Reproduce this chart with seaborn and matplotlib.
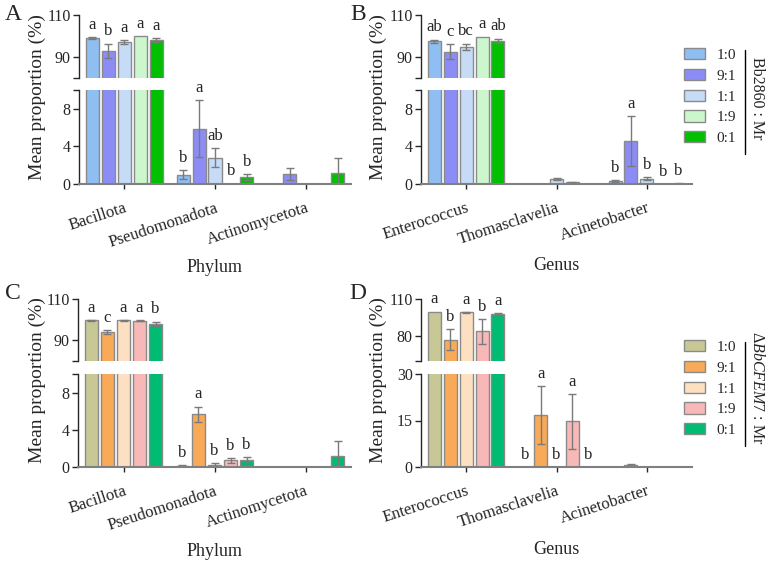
import matplotlib
matplotlib.use("Agg")
import matplotlib.pyplot as plt
import pandas as pd
import seaborn as sns
from matplotlib.patches import Patch
from matplotlib.lines import Line2D

sns.set_style("ticks")
plt.rcParams["font.family"] = ["Liberation Serif", "DejaVu Serif"]
plt.rcParams["mathtext.fontset"] = "custom"
plt.rcParams["mathtext.rm"] = "Liberation Serif"
plt.rcParams["mathtext.it"] = "Liberation Serif:italic"

ratios = ["1:0", "9:1", "1:1", "1:9", "0:1"]
phyla = ["Bacillota", "Pseudomonadota", "Actinomycetota"]
genera = ["Enterococcus", "Thomasclavelia", "Acinetobacter"]

# one list per ratio, values in taxon order
# A: Bb2860 : Mr, phylum
a_mean = [[99.0, 1.0, 0.02], [92.9, 5.9, 1.1], [97.1, 2.8, 0.03], [100.0, 0.05, 0.0], [98.1, 0.75, 1.15]]
a_sd = [[0.5, 0.45, 0.0], [3.5, 3.0, 0.65], [1.0, 1.0, 0.0], [0.0, 0.0, 0.0], [1.0, 0.3, 1.65]]
a_letters = [["a", "b", ""], ["b", "a", ""], ["a", "ab", ""], ["a", "b", ""], ["a", "b", ""]]

# B: Bb2860 : Mr, genus
b_mean = [[97.6, 0.03, 0.3], [92.5, 0.03, 4.6], [94.9, 0.5, 0.55], [99.7, 0.2, 0.0], [97.8, 0.02, 0.05]]
b_sd = [[0.7, 0.0, 0.1], [3.5, 0.0, 2.65], [1.5, 0.1, 0.15], [0.0, 0.05, 0.0], [1.0, 0.0, 0.02]]
b_letters = [["ab", "", "b"], ["c", "", "a"], ["bc", "", "b"], ["a", "", "b"], ["ab", "", "b"]]

# C: dBbCFEM7 : Mr, phylum
c_mean = [[99.7, 0.15, 0.02], [94.1, 5.65, 0.02], [99.7, 0.2, 0.0], [99.4, 0.7, 0.0], [98.1, 0.75, 1.15]]
c_sd = [[0.2, 0.05, 0.0], [0.8, 0.85, 0.0], [0.2, 0.2, 0.0], [0.2, 0.25, 0.0], [1.0, 0.3, 1.6]]
c_letters = [["a", "b", ""], ["c", "a", ""], ["a", "b", ""], ["a", "b", ""], ["b", "b", ""]]

# D: dBbCFEM7 : Mr, genus
d_mean = [[99.9, 0.0, 0.05], [77.3, 16.7, 0.7], [99.2, 0.0, 0.05], [83.8, 14.7, 0.05], [98.1, 0.0, 0.05]]
d_sd = [[0.0, 0.0, 0.0], [8.5, 9.3, 0.3], [0.5, 0.0, 0.0], [9.7, 8.8, 0.0], [0.7, 0.0, 0.0]]
d_letters = [["a", "b", ""], ["b", "a", ""], ["a", "b", ""], ["b", "a", ""], ["a", "b", ""]]

blue_pal = ["#8fbff2", "#8c8cf7", "#c6dbf5", "#ccf7cc", "#00c000"]
orange_pal = ["#c8c896", "#f8aa58", "#fde0c2", "#f8b8b8", "#00bb72"]

EDGE = "#8a8a8a"
ERR = "#7a7a7a"
W, H = 766, 561

fig = plt.figure(figsize=(W / 100, H / 100), dpi=100)


def box(l, r, t, b):
    return [l / W, 1 - b / H, (r - l) / W, (b - t) / H]


def draw_panel(left, right, top, mid1, mid2, bottom, cats, mean, sd, letters, palette,
               top_lim, top_ticks, bot_lim, bot_ticks):
    rows = []
    for i, r in enumerate(ratios):
        for j, c in enumerate(cats):
            rows.append({"taxon": c, "ratio": r, "mean": mean[i][j],
                         "sd": sd[i][j], "letter": letters[i][j]})
    df = pd.DataFrame(rows)

    ax_t = fig.add_axes(box(left, right, top, mid1))
    ax_b = fig.add_axes(box(left, right, mid2, bottom))
    centers = []
    for ax in (ax_t, ax_b):
        sns.barplot(data=df, x="taxon", y="mean", hue="ratio", order=cats, hue_order=ratios,
                    palette=palette, saturation=1, width=0.88, gap=0.18, errorbar=None,
                    edgecolor=EDGE, linewidth=1, legend=False, ax=ax)
        centers = [p.get_x() + p.get_width() / 2 for p in ax.patches]
        for x, (_, row) in zip(centers, df.iterrows()):
            if row["sd"] > 0:
                ax.errorbar(x, row["mean"], yerr=row["sd"], fmt="none", ecolor=ERR,
                            elinewidth=1, capsize=3, capthick=1)
        ax.set_xlim(-0.5, 2.5)
        ax.set_xlabel("")
        ax.set_ylabel("")
        ax.spines["top"].set_visible(False)
        ax.spines["right"].set_visible(False)
        ax.spines["left"].set_linewidth(1)
        ax.tick_params(axis="y", direction="out", length=4, width=1, labelsize=11.5, pad=2)

    for x, (_, row) in zip(centers, df.iterrows()):
        if row["letter"]:
            target = ax_t if row["mean"] > bot_lim[1] else ax_b
            target.annotate(row["letter"], (x, row["mean"] + row["sd"]), xytext=(0, 3),
                            textcoords="offset points", ha="center", va="bottom", fontsize=12)

    ax_t.set_ylim(*top_lim)
    ax_t.set_yticks([top_lim[0]] + top_ticks)
    ax_t.set_yticklabels([""] + [str(t) for t in top_ticks])
    ax_t.spines["bottom"].set_visible(False)
    ax_t.set_xticks([])

    ax_b.set_ylim(*bot_lim)
    ticks = list(bot_ticks)
    labels = [str(t) for t in bot_ticks]
    if bot_lim[1] not in ticks:
        ticks.append(bot_lim[1])
        labels.append("")
    ax_b.set_yticks(ticks)
    ax_b.set_yticklabels(labels)
    ax_b.spines["bottom"].set_color("#808080")
    ax_b.spines["bottom"].set_linewidth(1.5)
    ax_b.set_xticks(range(len(cats)))
    ax_b.set_xticklabels(cats, rotation=18, ha="right", va="top", rotation_mode="anchor",
                         fontsize=12)
    ax_b.tick_params(axis="x", direction="out", length=3.5, width=1, pad=8)
    return ax_t, ax_b


draw_panel(79, 351, 15, 78, 90, 184, phyla, a_mean, a_sd, a_letters, blue_pal,
           (80, 110), [90, 110], (0, 10), [0, 4, 8])
draw_panel(421, 692, 15, 78, 90, 184, genera, b_mean, b_sd, b_letters, blue_pal,
           (80, 110), [90, 110], (0, 10), [0, 4, 8])
draw_panel(78, 351, 299, 361, 374, 467, phyla, c_mean, c_sd, c_letters, orange_pal,
           (80, 110), [90, 110], (0, 10), [0, 4, 8])
draw_panel(421, 692, 299, 361, 374, 467, genera, d_mean, d_sd, d_letters, orange_pal,
           (60, 110), [80, 110], (0, 30), [0, 15, 30])

# axis titles and panel letters
for x, y in [(37, 97), (378, 97), (37, 380), (378, 380)]:
    fig.text(x / W, 1 - y / H, "Mean proportion (%)", rotation=90, ha="center", va="center",
             fontsize=14)
for x, y, t in [(215, 267, "Phylum"), (556, 265, "Genus"), (215, 551, "Phylum"), (556, 549, "Genus")]:
    fig.text(x / W, 1 - y / H, t, ha="center", va="center", fontsize=13)
for x, y, t in [(13, 14, "A"), (358, 14, "B"), (13, 293, "C"), (358, 293, "D")]:
    fig.text(x / W, 1 - y / H, t, ha="center", va="center", fontsize=17)

# legends
for pal, y0, tc, title in [(blue_pal, 48, 98, "Bb2860 : Mr"),
                           (orange_pal, 340, 388, r"Δ$\mathit{BbCFEM7}$ : Mr")]:
    handles = [Patch(facecolor=c, edgecolor=EDGE, linewidth=1) for c in pal]
    fig.legend(handles, ratios, loc="upper left", bbox_to_anchor=(684 / W, 1 - y0 / H),
               frameon=False, fontsize=11, handlelength=1.35, handleheight=0.75,
               handletextpad=0.8, labelspacing=0.45, borderpad=0, borderaxespad=0)
    fig.add_artist(Line2D([745 / W, 745 / W], [1 - (y0 + 2) / H, 1 - (y0 + 106) / H],
                          color="black", lw=1))
    fig.text(757 / W, 1 - tc / H, title, rotation=270, ha="center", va="center",
             fontsize=11.5)

fig.savefig("out.png", dpi=100)
